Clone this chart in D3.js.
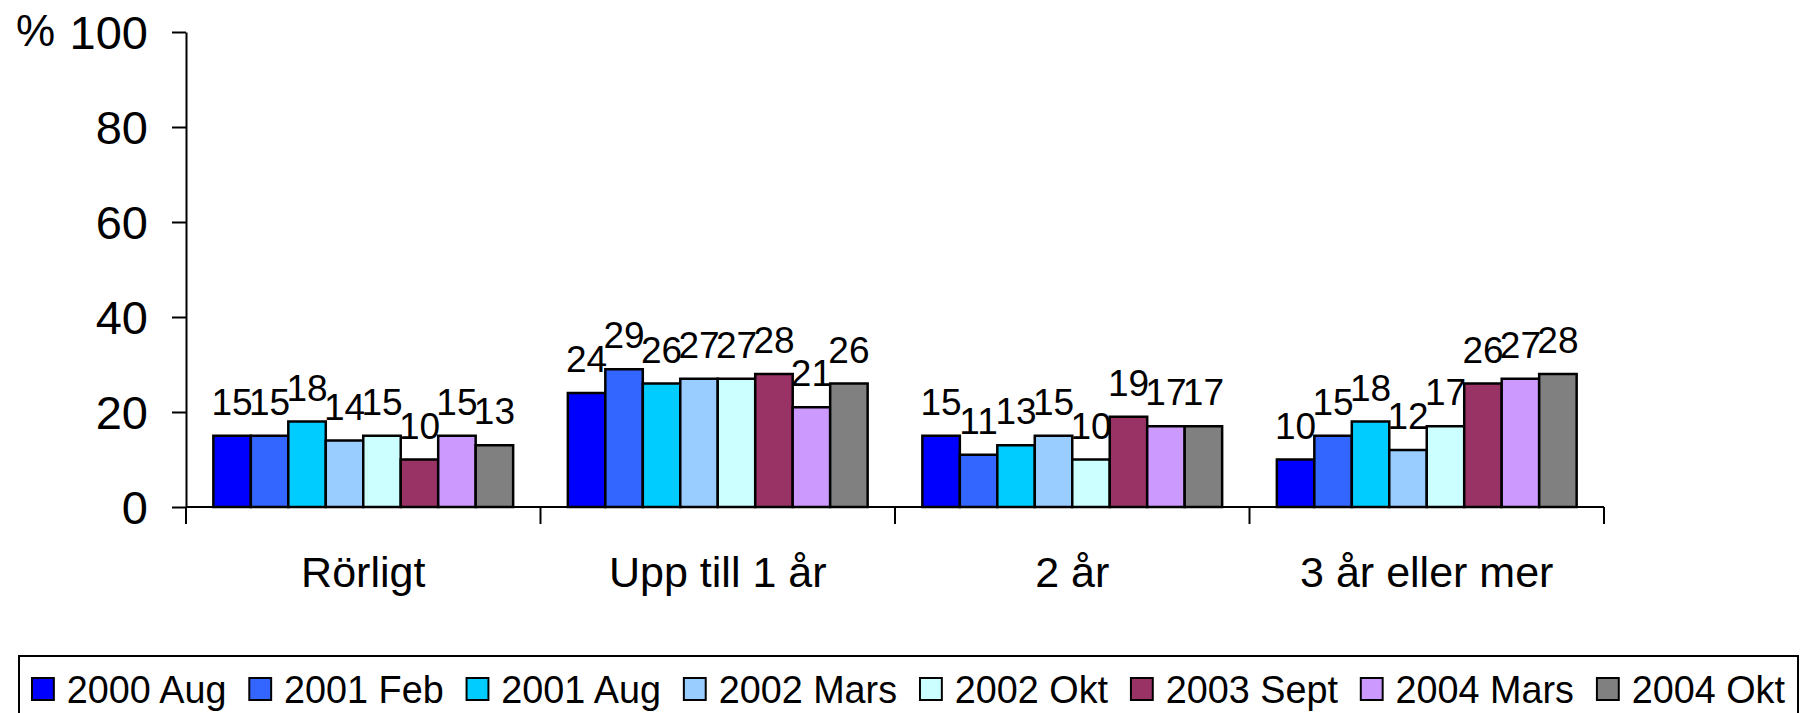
<!DOCTYPE html>
<html>
<head>
<meta charset="utf-8">
<script src="https://cdn.jsdelivr.net/npm/d3@7"></script>
<style>
  body { margin: 0; background: #fff; }
  text { font-family: "Liberation Sans", Arial, sans-serif; fill: #000; }
</style>
</head>
<body>
<div id="chart"></div>
<script>
var categories = ["Rörligt", "Upp till 1 år", "2 år", "3 år eller mer"];
var seriesNames = ["2000 Aug", "2001 Feb", "2001 Aug", "2002 Mars", "2002 Okt", "2003 Sept", "2004 Mars", "2004 Okt"];
var seriesColors = ["#0000FF", "#3366FF", "#00CCFF", "#99CCFF", "#CCFFFF", "#993366", "#CC99FF", "#808080"];
// one array per series, values for the four categories
var v2000Aug = [15, 24, 15, 10];
var v2001Feb = [15, 29, 11, 15];
var v2001Aug = [18, 26, 13, 18];
var v2002Mars = [14, 27, 15, 12];
var v2002Okt = [15, 27, 10, 17];
var v2003Sept = [10, 28, 19, 26];
var v2004Mars = [15, 21, 17, 27];
var v2004Okt = [13, 26, 17, 28];
var yTicks = [0, 20, 40, 60, 80, 100];

var seriesValues = [v2000Aug, v2001Feb, v2001Aug, v2002Mars, v2002Okt, v2003Sept, v2004Mars, v2004Okt];

var W = 1802, H = 713;
var svg = d3.select("#chart").append("svg").attr("width", W).attr("height", H);

var x = d3.scaleBand().domain(categories).range([186, 1604]);
var xs = d3.scaleBand().domain(seriesNames).range([0, x.bandwidth()]).paddingOuter(0.73);
var y = d3.scaleLinear().domain([0, 100]).range([507, 32]);

// y axis
var yAxis = svg.append("g")
    .attr("transform", "translate(186,0)")
    .call(d3.axisLeft(y).tickValues(yTicks).tickSize(14).tickSizeOuter(0).tickPadding(24));
yAxis.select(".domain").attr("stroke", "#000").attr("stroke-width", 2);
yAxis.selectAll(".tick line").attr("stroke", "#000").attr("stroke-width", 2);
yAxis.selectAll(".tick text")
    .style("font-family", "'Liberation Sans', Arial, sans-serif")
    .style("font-size", "47px")
    .attr("dy", "0.36em");

svg.append("text")
    .attr("x", 16).attr("y", 30).attr("dy", "0.36em")
    .style("font-size", "44px")
    .text("%");

// x axis line and category boundary ticks
svg.append("line")
    .attr("x1", 186).attr("x2", 1604).attr("y1", y(0)).attr("y2", y(0))
    .attr("stroke", "#000").attr("stroke-width", 2);
var bounds = categories.map(function (c) { return x(c); }).concat([x(categories[categories.length - 1]) + x.bandwidth()]);
svg.selectAll(".xtick").data(bounds).enter().append("line")
    .attr("x1", function (d) { return d; }).attr("x2", function (d) { return d; })
    .attr("y1", y(0)).attr("y2", y(0) + 17)
    .attr("stroke", "#000").attr("stroke-width", 2);

svg.selectAll(".catlabel").data(categories).enter().append("text")
    .attr("x", function (d) { return x(d) + x.bandwidth() / 2; })
    .attr("y", 587)
    .attr("text-anchor", "middle")
    .style("font-size", "43px")
    .text(function (d) { return d; });

// bars
var groups = svg.selectAll(".grp").data(categories).enter().append("g")
    .attr("transform", function (d) { return "translate(" + x(d) + ",0)"; });

function cells(c, ci) {
    return seriesNames.map(function (s, si) { return { s: s, si: si, v: seriesValues[si][ci] }; });
}

groups.selectAll("rect").data(cells).enter().append("rect")
    .attr("x", function (d) { return xs(d.s); })
    .attr("y", function (d) { return y(d.v); })
    .attr("width", xs.bandwidth())
    .attr("height", function (d) { return y(0) - y(d.v); })
    .attr("fill", function (d) { return seriesColors[d.si]; })
    .attr("stroke", "#000")
    .attr("stroke-width", 2.5);

groups.selectAll(".val").data(cells).enter().append("text")
    .attr("x", function (d) { return xs(d.s) + xs.bandwidth() / 2; })
    .attr("y", function (d) { return y(d.v) - 21; })
    .attr("text-anchor", "middle")
    .style("font-size", "37px")
    .text(function (d) { return d.v; });

// legend
svg.append("rect")
    .attr("x", 19).attr("y", 656).attr("width", 1779).attr("height", 70)
    .attr("fill", "#fff").attr("stroke", "#000").attr("stroke-width", 2);

var leg = svg.append("g");
var cursor = 0;
seriesNames.forEach(function (s, i) {
    var item = leg.append("g").attr("transform", "translate(" + cursor + ",0)");
    item.append("rect")
        .attr("x", 1).attr("y", -11).attr("width", 22).attr("height", 22)
        .attr("fill", seriesColors[i]).attr("stroke", "#000").attr("stroke-width", 2);
    var t = item.append("text")
        .attr("x", 36).attr("y", 0).attr("dy", "0.36em")
        .style("font-size", "38px")
        .text(s);
    cursor += 36 + t.node().getComputedTextLength() + 22;
});
var legWidth = cursor - 22;
var sx = (1785 - 31) / legWidth;
leg.attr("transform", "translate(31,689) scale(" + sx + ",1)");
</script>
</body>
</html>
